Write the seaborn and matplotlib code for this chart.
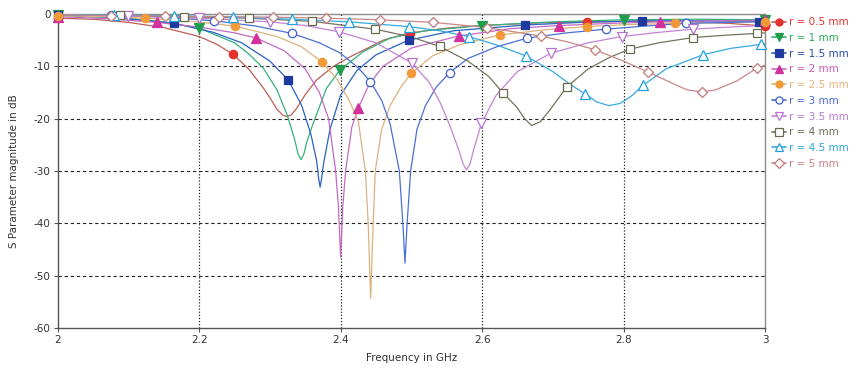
import matplotlib
matplotlib.use("Agg")
import matplotlib.pyplot as plt
import seaborn as sns
import pandas as pd
from matplotlib.lines import Line2D

# ---------------- data ----------------
labels = ["r = 0.5 mm", "r = 1 mm", "r = 1.5 mm", "r = 2 mm", "r = 2.5 mm",
          "r = 3 mm", "r = 3.5 mm", "r = 4 mm", "r = 4.5 mm", "r = 5 mm"]

f_r05 = [2.0, 2.05, 2.1, 2.15, 2.2, 2.225, 2.248, 2.27, 2.29, 2.3, 2.31, 2.318, 2.324, 2.33,
         2.338, 2.35, 2.366, 2.39, 2.413, 2.44, 2.46, 2.498, 2.55, 2.6, 2.68, 2.748, 2.82,
         2.9, 2.95, 3.0]
db_r05 = [-0.8, -1.0, -1.6, -2.6, -4.3, -5.8, -7.7, -10.5, -14.0, -16.0, -18.2, -19.3, -19.6,
          -19.3, -18.0, -15.4, -12.6, -10.0, -8.2, -6.4, -5.0, -3.6, -2.7, -2.2, -1.7, -1.5,
          -1.4, -1.5, -1.8, -2.3]
mk_r05 = [2.0, 2.248, 2.498, 2.748, 3.0]

f_r1 = [2.0, 2.1, 2.15, 2.2, 2.25, 2.27, 2.291, 2.31, 2.325, 2.335, 2.34, 2.344, 2.348, 2.352,
        2.362, 2.38, 2.399, 2.432, 2.47, 2.52, 2.6, 2.7, 2.8, 2.9, 3.0]
db_r1 = [-0.2, -0.8, -1.5, -2.7, -5.5, -7.6, -10.4, -14.5, -19.5, -24.0, -26.8, -27.8, -26.8,
         -24.5, -20.6, -14.2, -10.7, -7.2, -4.6, -3.2, -2.2, -1.5, -1.1, -1.0, -1.1]
mk_r1 = [2.0, 2.2, 2.399, 2.6, 2.8, 3.0]

f_r15 = [2.0, 2.08, 2.165, 2.22, 2.26, 2.3, 2.326, 2.345, 2.358, 2.366, 2.369, 2.371, 2.373,
         2.376, 2.385, 2.4, 2.423, 2.45, 2.496, 2.56, 2.661, 2.74, 2.826, 2.91, 2.991, 3.0]
db_r15 = [-0.2, -0.7, -1.8, -3.5, -5.5, -9.0, -12.6, -17.5, -23.0, -28.0, -31.5, -33.1, -31.5,
          -28.5, -22.0, -15.5, -10.8, -7.8, -5.0, -3.2, -2.1, -1.6, -1.3, -1.3, -1.5, -1.5]
mk_r15 = [2.0, 2.165, 2.326, 2.496, 2.661, 2.826, 2.991]

f_r2 = [2.0, 2.07, 2.14, 2.2, 2.25, 2.281, 2.32, 2.35, 2.37, 2.383, 2.393, 2.397, 2.4, 2.403,
        2.407, 2.416, 2.425, 2.44, 2.46, 2.5, 2.567, 2.64, 2.709, 2.78, 2.851, 2.93, 3.0]
db_r2 = [-0.5, -0.9, -1.6, -2.5, -3.6, -4.6, -7.0, -10.5, -15.0, -20.0, -30.0, -37.0, -46.5, -37.0,
         -30.0, -21.5, -18.0, -13.5, -10.0, -6.5, -4.2, -2.8, -2.2, -1.8, -1.5, -1.3, -1.2]
mk_r2 = [2.0, 2.14, 2.281, 2.425, 2.567, 2.709, 2.851, 3.0]

f_r25 = [2.0, 2.06, 2.124, 2.19, 2.25, 2.31, 2.345, 2.373, 2.395, 2.412, 2.425, 2.435, 2.439,
         2.4425, 2.446, 2.449, 2.458, 2.47, 2.485, 2.5, 2.53, 2.57, 2.625, 2.69, 2.748, 2.81,
         2.873, 2.94, 3.0]
db_r25 = [-0.3, -0.5, -0.8, -1.4, -2.3, -4.3, -6.3, -9.1, -12.5, -16.5, -20.5, -30.0, -40.0,
          -54.3, -40.0, -30.0, -22.0, -17.5, -14.0, -11.3, -8.0, -5.8, -4.0, -3.0, -2.4, -2.0,
          -1.8, -1.6, -1.5]
mk_r25 = [2.0, 2.124, 2.25, 2.373, 2.5, 2.625, 2.748, 2.873, 3.0]

f_r3 = [2.0, 2.075, 2.15, 2.221, 2.28, 2.331, 2.37, 2.4, 2.425, 2.442, 2.458, 2.47, 2.483, 2.488,
        2.491, 2.494, 2.499, 2.508, 2.52, 2.535, 2.554, 2.58, 2.62, 2.664, 2.72, 2.775, 2.83,
        2.888, 2.95, 3.0]
db_r3 = [-0.1, -0.2, -0.6, -1.3, -2.3, -3.7, -5.5, -7.5, -10.3, -12.9, -16.5, -21.0, -30.0, -40.0,
         -47.6, -40.0, -30.0, -22.0, -17.5, -14.0, -11.2, -8.5, -6.3, -4.6, -3.6, -2.9, -2.3,
         -1.8, -1.6, -1.4]
mk_r3 = [2.075, 2.221, 2.331, 2.442, 2.554, 2.664, 2.775, 2.888]

f_r35 = [2.0, 2.1, 2.2, 2.3, 2.35, 2.398, 2.45, 2.501, 2.525, 2.541, 2.555, 2.567, 2.573, 2.578,
         2.583, 2.588, 2.599, 2.62, 2.65, 2.697, 2.75, 2.798, 2.85, 2.898, 2.95, 3.0]
db_r35 = [-0.1, -0.4, -0.8, -1.5, -2.2, -3.4, -5.5, -9.4, -13.0, -17.0, -21.5, -26.0, -28.6, -29.8,
          -28.6, -26.0, -20.9, -15.5, -11.0, -7.5, -5.5, -4.3, -3.5, -2.9, -2.5, -2.2]
mk_r35 = [2.1, 2.2, 2.3, 2.398, 2.501, 2.599, 2.697, 2.798, 2.898]

f_r4 = [2.0, 2.088, 2.178, 2.27, 2.359, 2.449, 2.5, 2.54, 2.58, 2.61, 2.629, 2.649, 2.66, 2.67,
        2.682, 2.695, 2.72, 2.75, 2.78, 2.809, 2.85, 2.898, 2.95, 2.989, 3.0]
db_r4 = [-0.1, -0.2, -0.5, -0.8, -1.4, -2.9, -4.4, -6.2, -9.0, -12.0, -15.0, -17.8, -20.0, -21.3,
         -20.6, -18.5, -13.9, -10.5, -8.3, -6.7, -5.5, -4.5, -4.0, -3.7, -3.6]
mk_r4 = [2.088, 2.178, 2.27, 2.359, 2.449, 2.54, 2.629, 2.72, 2.809, 2.898, 2.989]

f_r45 = [2.0, 2.08, 2.165, 2.248, 2.331, 2.412, 2.496, 2.54, 2.581, 2.62, 2.662, 2.7, 2.725,
         2.746, 2.762, 2.779, 2.795, 2.81, 2.828, 2.86, 2.912, 2.95, 2.994, 3.0]
db_r45 = [-0.1, -0.2, -0.3, -0.6, -1.0, -1.5, -2.4, -3.2, -4.3, -5.9, -8.0, -11.0, -13.5,
          -15.3, -16.8, -17.5, -17.1, -15.8, -13.6, -10.5, -7.8, -6.6, -5.8, -5.7]
mk_r45 = [2.08, 2.165, 2.248, 2.331, 2.412, 2.496, 2.581, 2.662, 2.746, 2.828, 2.912, 2.994]

f_r5 = [2.0, 2.076, 2.152, 2.228, 2.304, 2.38, 2.455, 2.531, 2.607, 2.683, 2.72, 2.759, 2.8,
        2.835, 2.87, 2.89, 2.911, 2.93, 2.96, 2.988, 3.0]
db_r5 = [-0.1, -0.3, -0.4, -0.5, -0.6, -0.8, -1.1, -1.6, -2.6, -4.2, -5.3, -6.8, -9.0,
         -11.1, -13.3, -14.5, -14.9, -14.5, -12.8, -10.4, -9.8]
mk_r5 = [2.076, 2.152, 2.228, 2.304, 2.38, 2.455, 2.531, 2.607, 2.683, 2.759, 2.835, 2.911, 2.988]

x_ticks = [2, 2.2, 2.4, 2.6, 2.8, 3]
x_tick_labels = ["2", "2.2", "2.4", "2.6", "2.8", "3"]
y_ticks = [0, -10, -20, -30, -40, -50, -60]
y_tick_labels = ["0", "-10", "-20", "-30", "-40", "-50", "-60"]

# ---------------- styles ----------------
freqs = [f_r05, f_r1, f_r15, f_r2, f_r25, f_r3, f_r35, f_r4, f_r45, f_r5]
dbs = [db_r05, db_r1, db_r15, db_r2, db_r25, db_r3, db_r35, db_r4, db_r45, db_r5]
marks = [mk_r05, mk_r1, mk_r15, mk_r2, mk_r25, mk_r3, mk_r35, mk_r4, mk_r45, mk_r5]

marker_colors = ["#e5322c", "#1e9e4a", "#1f3a9e", "#d42f9e", "#f29a3a",
                 "#3e5fd0", "#b673d2", "#6b6b50", "#1fa0e0", "#c27a7a"]
line_colors = ["#bd5e58", "#35b07a", "#2a62c4", "#c46ac4", "#dcb27c",
               "#4a70d6", "#c383d4", "#74745e", "#36aae2", "#c88787"]
text_colors = ["#e5322c", "#2aa85a", "#2a4ab0", "#cc58b0", "#ebb27a",
               "#4a6ad4", "#b67ad2", "#707058", "#2aa6e0", "#c98080"]
marker_shapes = ["o", "v", "s", "^", "o", "o", "v", "s", "^", "D"]
filled = [True, True, True, True, True, False, False, False, False, False]
msizes = [6.0, 6.5, 6.2, 6.5, 6.0, 6.0, 7.0, 6.2, 7.0, 5.5]

sns.set_theme(style="white")
plt.rcParams["font.family"] = ["DejaVu Sans"]
plt.rcParams["axes.unicode_minus"] = False

fig = plt.figure(figsize=(8.66, 3.68), dpi=100)
ax = fig.add_axes([57.7 / 866, 1 - 328 / 368, (765 - 57.7) / 866, (328 - 14) / 368])

for i in range(len(labels)):
    df = pd.DataFrame({"f": freqs[i], "db": dbs[i]})
    sns.lineplot(data=df, x="f", y="db", ax=ax, color=line_colors[i], lw=0.9,
                 estimator=None, sort=False, legend=False, zorder=3)

for i in range(len(labels)):
    idx = [freqs[i].index(m) for m in marks[i]]
    mf = [freqs[i][k] for k in idx]
    md = [dbs[i][k] for k in idx]
    ax.plot(mf, md, ls="none", marker=marker_shapes[i], ms=msizes[i],
            mfc=marker_colors[i] if filled[i] else "white",
            mec=marker_colors[i], mew=0.9, zorder=4, clip_on=False)

ax.set_xlim(2, 3)
ax.set_ylim(-60, 0)
ax.set_xticks(x_ticks)
ax.set_xticklabels(x_tick_labels)
ax.set_yticks(y_ticks)
ax.set_yticklabels(y_tick_labels)

for y in y_ticks[1:-1]:
    ax.axhline(y, color="#222222", lw=0.8, ls=(0, (3, 2.5)), zorder=1)
for x in x_ticks[1:-1]:
    ax.axvline(x, color="#222222", lw=0.9, ls=(0, (1, 1.5)), zorder=1)

for s in ["left", "bottom"]:
    ax.spines[s].set_color("#555555")
    ax.spines[s].set_linewidth(1.0)
for s in ["top", "right"]:
    ax.spines[s].set_color("#8a8a8a")
    ax.spines[s].set_linewidth(1.0)

ax.tick_params(axis="both", which="major", direction="out", length=3, width=0.8,
               color="#555555", labelsize=7.5, labelcolor="#333333", pad=2,
               left=True, bottom=True)
ax.set_xlabel("Frequency in GHz", fontsize=7.5, color="#333333", labelpad=6)
ax.set_ylabel("S Parameter magnitude in dB", fontsize=7.5, color="#333333", labelpad=11)

handles = []
for i in range(len(labels)):
    handles.append(Line2D([], [], color=line_colors[i], lw=1.2, marker=marker_shapes[i],
                          ms=msizes[i] * 0.85,
                          mfc=marker_colors[i] if filled[i] else "white",
                          mec=marker_colors[i], mew=0.9))
leg = fig.legend(handles, labels, loc="upper left", bbox_to_anchor=(768 / 866, 1 - 13 / 368),
                 frameon=False, fontsize=7.5, handlelength=1.3, handletextpad=0.3,
                 labelspacing=0.55, borderaxespad=0)
for t, c in zip(leg.get_texts(), text_colors):
    t.set_color(c)

fig.savefig("out.png", dpi=100)
